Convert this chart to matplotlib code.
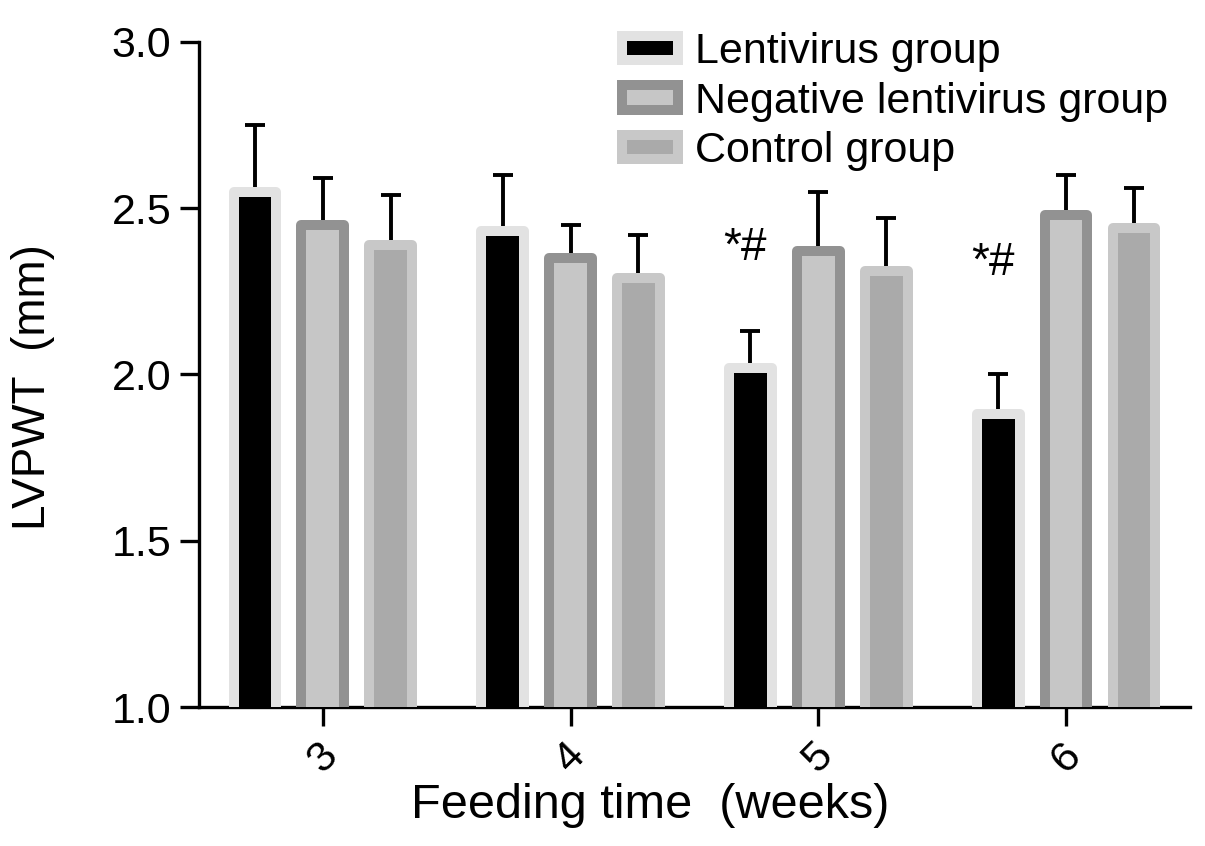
import numpy as np
import matplotlib
matplotlib.use("Agg")
import matplotlib.pyplot as plt

plt.rcParams["font.family"] = ["Liberation Sans", "DejaVu Sans"]

# Data
weeks = ["3", "4", "5", "6"]
groups = ["Lentivirus group", "Negative lentivirus group", "Control group"]
lenti_mean = [2.55, 2.43, 2.02, 1.88]
lenti_sd = [0.20, 0.17, 0.11, 0.12]
neg_mean = [2.45, 2.35, 2.37, 2.48]
neg_sd = [0.14, 0.10, 0.18, 0.12]
ctrl_mean = [2.39, 2.29, 2.31, 2.44]
ctrl_sd = [0.15, 0.13, 0.16, 0.12]
sig_labels = ["", "", "*#", "*#"]
sig_y = [None, None, 2.345, 2.30]

means = [lenti_mean, neg_mean, ctrl_mean]
sds = [lenti_sd, neg_sd, ctrl_sd]
fills = ["#000000", "#c6c6c6", "#aaaaaa"]
edges = ["#e2e2e2", "#929292", "#c8c8c8"]

fig = plt.figure(figsize=(12.05, 8.46), dpi=100)
ax = fig.add_axes([0.1651, 0.1643, 0.8224, 0.7861])

x = np.arange(len(weeks))
offsets = [-0.274, 0.0, 0.274]
width = 0.173

for k in range(3):
    xs = x + offsets[k]
    ax.bar(xs, means[k], width=width, bottom=0, color=fills[k],
           edgecolor=edges[k], linewidth=7.2, joinstyle="round",
           label=groups[k], zorder=3)
    eb = ax.errorbar(xs, means[k], yerr=[np.zeros(len(weeks)), sds[k]],
                     fmt="none", ecolor="black", elinewidth=2.8,
                     capsize=7.5, capthick=2.8, zorder=2)
    eb[1][0].set_visible(False)

# significance marks
for i, lab in enumerate(sig_labels):
    if lab:
        ax.text(x[i] + offsets[0] - 0.02, sig_y[i], lab, ha="center",
                va="baseline", fontsize=33)

ax.set_ylim(1.0, 3.0)
ax.set_xlim(-0.5, 3.5)
ax.set_yticks([1.0, 1.5, 2.0, 2.5, 3.0])
ax.set_yticklabels(["1.0", "1.5", "2.0", "2.5", "3.0"])
ax.set_xticks(x)
ax.set_xticklabels(weeks, rotation=45)

for s in ["top", "right"]:
    ax.spines[s].set_visible(False)
for s in ["left", "bottom"]:
    ax.spines[s].set_linewidth(2.4)
ax.tick_params(axis="both", length=14, width=2.4, labelsize=31, pad=6)

ax.set_xlabel("Feeding time  (weeks)", fontsize=35)
ax.xaxis.set_label_coords(0.455, -0.115)
ax.set_ylabel("LVPWT  (mm)", fontsize=33)
ax.yaxis.set_label_coords(-0.145, 0.481)

ax.legend(loc="upper left", bbox_to_anchor=(0.516, 0.962), bbox_transform=fig.transFigure,
          frameon=False, fontsize=31, handlelength=1.3, handleheight=0.5,
          labelspacing=0.22, handletextpad=0.4, borderpad=0, borderaxespad=0)

fig.savefig("out.png", dpi=100)
